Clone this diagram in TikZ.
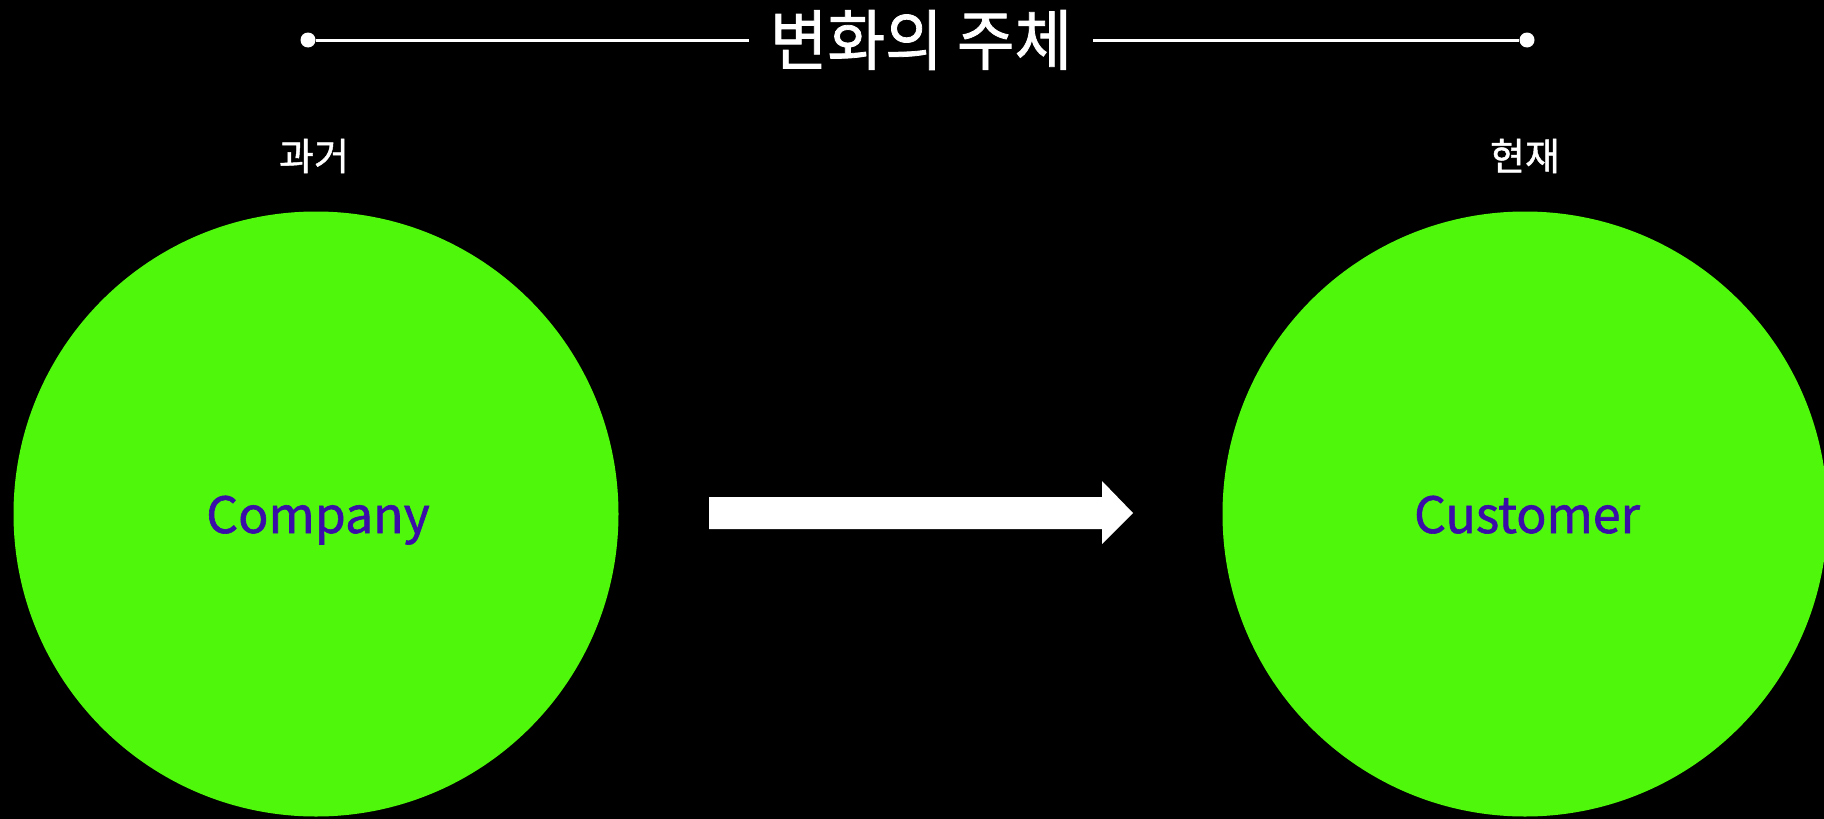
\documentclass[tikz,border=0pt]{standalone}
\usepackage{fontspec}
\setmainfont{Noto Sans CJK KR}
\newfontfamily\krmed{Noto Sans CJK KR}[FakeBold=1.2]
\usepackage{tikz}
\usetikzlibrary{positioning}
\definecolor{limegreen}{HTML}{4FF80A}
\definecolor{deeppurple}{HTML}{3A0CA8}

\begin{document}
\begin{tikzpicture}[x=1pt,y=-1pt,
  enddot/.style={circle,fill=white,inner sep=0pt,minimum size=15pt},
  ball/.style={circle,fill=limegreen,inner sep=0pt,minimum size=605pt},
  brand/.style={text=deeppurple,font=\krmed\fontsize{50}{50}\selectfont,anchor=base},
  era/.style={text=white,font=\krmed\fontsize{38}{38}\selectfont}]
\useasboundingbox (0,0) rectangle (1824,819);
\fill[black] (0,0) rectangle (1824,819);
\clip (0,0) rectangle (1824,819);
% title with its line
\node[enddot] (ldot) at (308,40) {};
\node[enddot] (rdot) at (1527,40) {};
\node[text=white,font=\krmed\fontsize{66}{66}\selectfont,inner xsep=22pt,xscale=0.95] (title) at (921,40) {변화의 주체};
\draw[white,line width=3pt] (ldot) -- (title);
\draw[white,line width=3pt] (title) -- (rdot);
% past and present
\node[era] (past) at (314,156) {과거};
\node[era] (now) at (1525,156) {현재};
\node[ball] (company) at (316,514) {};
\node[ball] (customer) at (1525,514) {};
\node[brand] (companytext) at (318,533) {Company};
\node[brand] (customertext) at (1527,533) {Customer};
% big arrow
\fill[white] (709,497) -- (1102,497) -- (1102,481) -- (1133,513)
  -- (1102,544) -- (1102,529) -- (709,529) -- cycle;
\end{tikzpicture}
\end{document}
